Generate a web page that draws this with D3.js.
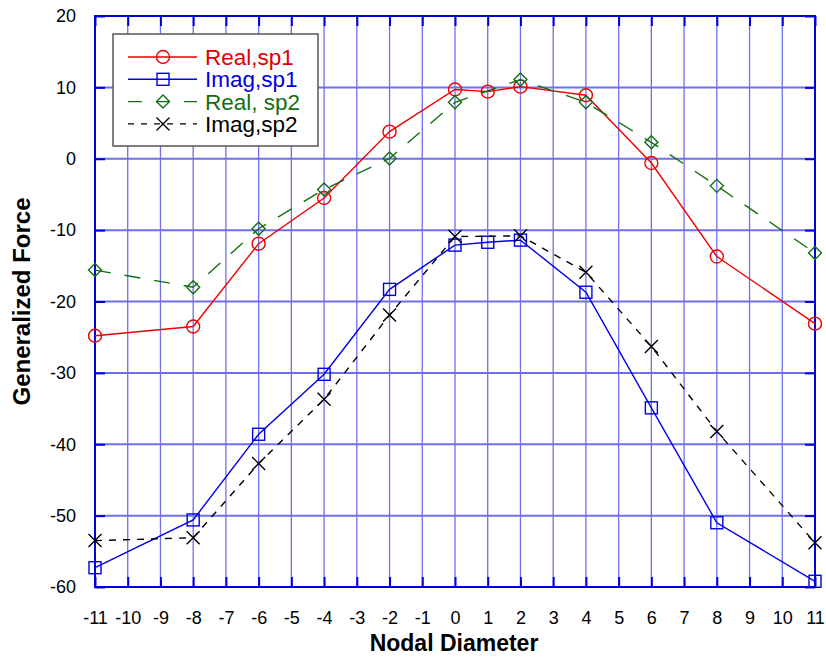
<!DOCTYPE html>
<html>
<head>
<meta charset="utf-8">
<script src="https://cdn.jsdelivr.net/npm/d3@7"></script>
<style>
  html, body { margin: 0; padding: 0; background: #fff; }
  svg { display: block; font-family: "Liberation Sans", Arial, sans-serif; }
</style>
</head>
<body>
<svg id="chart" width="826" height="657"></svg>
<script>
// Nodal diameters and generalized force components for two spool cases
const xs1 = [-11, -8, -6, -4, -2, 0, 1, 2, 4, 6, 8, 11];
const realSp1 = [-24.8, -23.5, -11.9, -5.5, 3.8, 9.7, 9.4, 10.1, 8.9, -0.6, -13.7, -23.1];
const imagSp1 = [-57.3, -50.6, -38.6, -30.2, -18.3, -12.1, -11.7, -11.4, -18.7, -34.9, -51.0, -59.2];

const xs2 = [-11, -8, -6, -4, -2, 0, 2, 4, 6, 8, 11];
const realSp2 = [-15.6, -18.0, -9.8, -4.3, 0.05, 7.9, 11.1, 7.9, 2.3, -3.8, -13.2];
const imagSp2 = [-53.5, -53.1, -42.7, -33.7, -21.9, -10.9, -10.8, -15.9, -26.3, -38.2, -53.8];

const xTicks = d3.range(-11, 12);
const yTicks = [-60, -50, -40, -30, -20, -10, 0, 10, 20];
const seriesNames = ["Real,sp1", "Imag,sp1", "Real, sp2", "Imag,sp2"];

const svg = d3.select("#chart");
const plotLeft = 95, plotRight = 815, plotTop = 16, plotBottom = 587;

const x = d3.scaleLinear().domain([-11, 11]).range([plotLeft, plotRight]);
const y = d3.scaleLinear().domain([-60, 20]).range([plotBottom, plotTop]);

const axisBlue = "#0000dd";
const gridBlue = "#6f6fee";

// grid
const grid = svg.append("g");
grid.selectAll("line.v").data(xTicks).join("line")
  .attr("class", "v")
  .attr("x1", d => x(d)).attr("x2", d => x(d))
  .attr("y1", plotTop).attr("y2", plotBottom)
  .attr("stroke", gridBlue).attr("stroke-width", 1.3);
grid.selectAll("line.h").data(yTicks).join("line")
  .attr("class", "h")
  .attr("x1", plotLeft).attr("x2", plotRight)
  .attr("y1", d => y(d)).attr("y2", d => y(d))
  .attr("stroke", gridBlue).attr("stroke-width", 2);

// axes with inward ticks on all four sides
const tickLen = 10;
const fmt = d => String(d);
svg.append("g").attr("transform", `translate(0,${plotBottom})`)
  .call(d3.axisBottom(x).tickValues(xTicks).tickSize(-tickLen).tickPadding(24).tickFormat(fmt))
  .call(g => g.select(".domain").remove());
svg.append("g").attr("transform", `translate(0,${plotTop})`)
  .call(d3.axisTop(x).tickValues(xTicks).tickSize(-tickLen).tickFormat(""))
  .call(g => g.select(".domain").remove());
svg.append("g").attr("transform", `translate(${plotLeft},0)`)
  .call(d3.axisLeft(y).tickValues(yTicks).tickSize(-tickLen).tickPadding(19).tickFormat(fmt))
  .call(g => g.select(".domain").remove());
svg.append("g").attr("transform", `translate(${plotRight},0)`)
  .call(d3.axisRight(y).tickValues(yTicks).tickSize(-tickLen).tickFormat(""))
  .call(g => g.select(".domain").remove());

svg.selectAll(".tick line").attr("stroke", axisBlue).attr("stroke-width", 2);
svg.selectAll(".tick text")
  .attr("fill", "#000")
  .attr("font-size", 18)
  .attr("font-family", "'Liberation Sans', Arial, sans-serif");

svg.append("rect")
  .attr("x", plotLeft).attr("y", plotTop)
  .attr("width", plotRight - plotLeft).attr("height", plotBottom - plotTop)
  .attr("fill", "none").attr("stroke", axisBlue).attr("stroke-width", 2);

// axis titles
svg.append("text")
  .attr("x", (plotLeft + plotRight) / 2 - 1).attr("y", 651)
  .attr("text-anchor", "middle")
  .attr("font-size", 23).attr("font-weight", "bold")
  .text("Nodal Diameter");
svg.append("text")
  .attr("transform", `translate(30,${(plotTop + plotBottom) / 2}) rotate(-90)`)
  .attr("text-anchor", "middle")
  .attr("font-size", 24).attr("font-weight", "bold")
  .text("Generalized Force");

// marker shapes
function drawMarker(g, type, color, cx, cy) {
  if (type === "circle") {
    g.append("circle").attr("cx", cx).attr("cy", cy).attr("r", 6.5)
      .attr("fill", "none").attr("stroke", color).attr("stroke-width", 1.4);
  } else if (type === "square") {
    g.append("rect").attr("x", cx - 6).attr("y", cy - 6).attr("width", 12).attr("height", 12)
      .attr("fill", "none").attr("stroke", color).attr("stroke-width", 1.4);
  } else if (type === "diamond") {
    const s = 6.5;
    g.append("path")
      .attr("d", `M${cx},${cy - s}L${cx + s},${cy}L${cx},${cy + s}L${cx - s},${cy}Z`)
      .attr("fill", "none").attr("stroke", color).attr("stroke-width", 1.4);
  } else if (type === "cross") {
    const s = 6.5;
    g.append("path")
      .attr("d", `M${cx - s},${cy - s}L${cx + s},${cy + s}M${cx - s},${cy + s}L${cx + s},${cy - s}`)
      .attr("fill", "none").attr("stroke", color).attr("stroke-width", 1.4);
  }
}

const series = [
  { name: seriesNames[0], xs: xs1, ys: realSp1, color: "#ee0000", text: "#e00000", dash: null, marker: "circle" },
  { name: seriesNames[1], xs: xs1, ys: imagSp1, color: "#0000e6", text: "#0000dd", dash: null, marker: "square" },
  { name: seriesNames[2], xs: xs2, ys: realSp2, color: "#126e12", text: "#127012", dash: "16,14", marker: "diamond" },
  { name: seriesNames[3], xs: xs2, ys: imagSp2, color: "#000000", text: "#000000", dash: "7,7", marker: "cross" }
];

const line = d3.line().x(d => x(d[0])).y(d => y(d[1]));
const plot = svg.append("g");
series.forEach(s => {
  const pts = s.xs.map((v, i) => [v, s.ys[i]]);
  plot.append("path").datum(pts)
    .attr("d", line)
    .attr("fill", "none")
    .attr("stroke", s.color)
    .attr("stroke-width", 1.4)
    .attr("stroke-dasharray", s.dash);
  const mg = plot.append("g");
  pts.forEach(p => drawMarker(mg, s.marker, s.color, x(p[0]), y(p[1])));
});

// legend
const lg = svg.append("g");
lg.append("rect")
  .attr("x", 113).attr("y", 34).attr("width", 205).attr("height", 112)
  .attr("fill", "#fff").attr("stroke", "#555").attr("stroke-width", 1.5);
const legendDash = [null, null, "14,14", "6,7"];
series.forEach((s, i) => {
  const cy = 57 + i * 22.3;
  lg.append("line")
    .attr("x1", 128).attr("x2", 197).attr("y1", cy).attr("y2", cy)
    .attr("stroke", s.color).attr("stroke-width", 1.4)
    .attr("stroke-dasharray", legendDash[i]);
  drawMarker(lg, s.marker, s.color, 163, cy);
  lg.append("text")
    .attr("x", 205).attr("y", cy + 8)
    .attr("font-size", 22.5)
    .attr("fill", s.text)
    .text(s.name);
});
</script>
</body>
</html>
